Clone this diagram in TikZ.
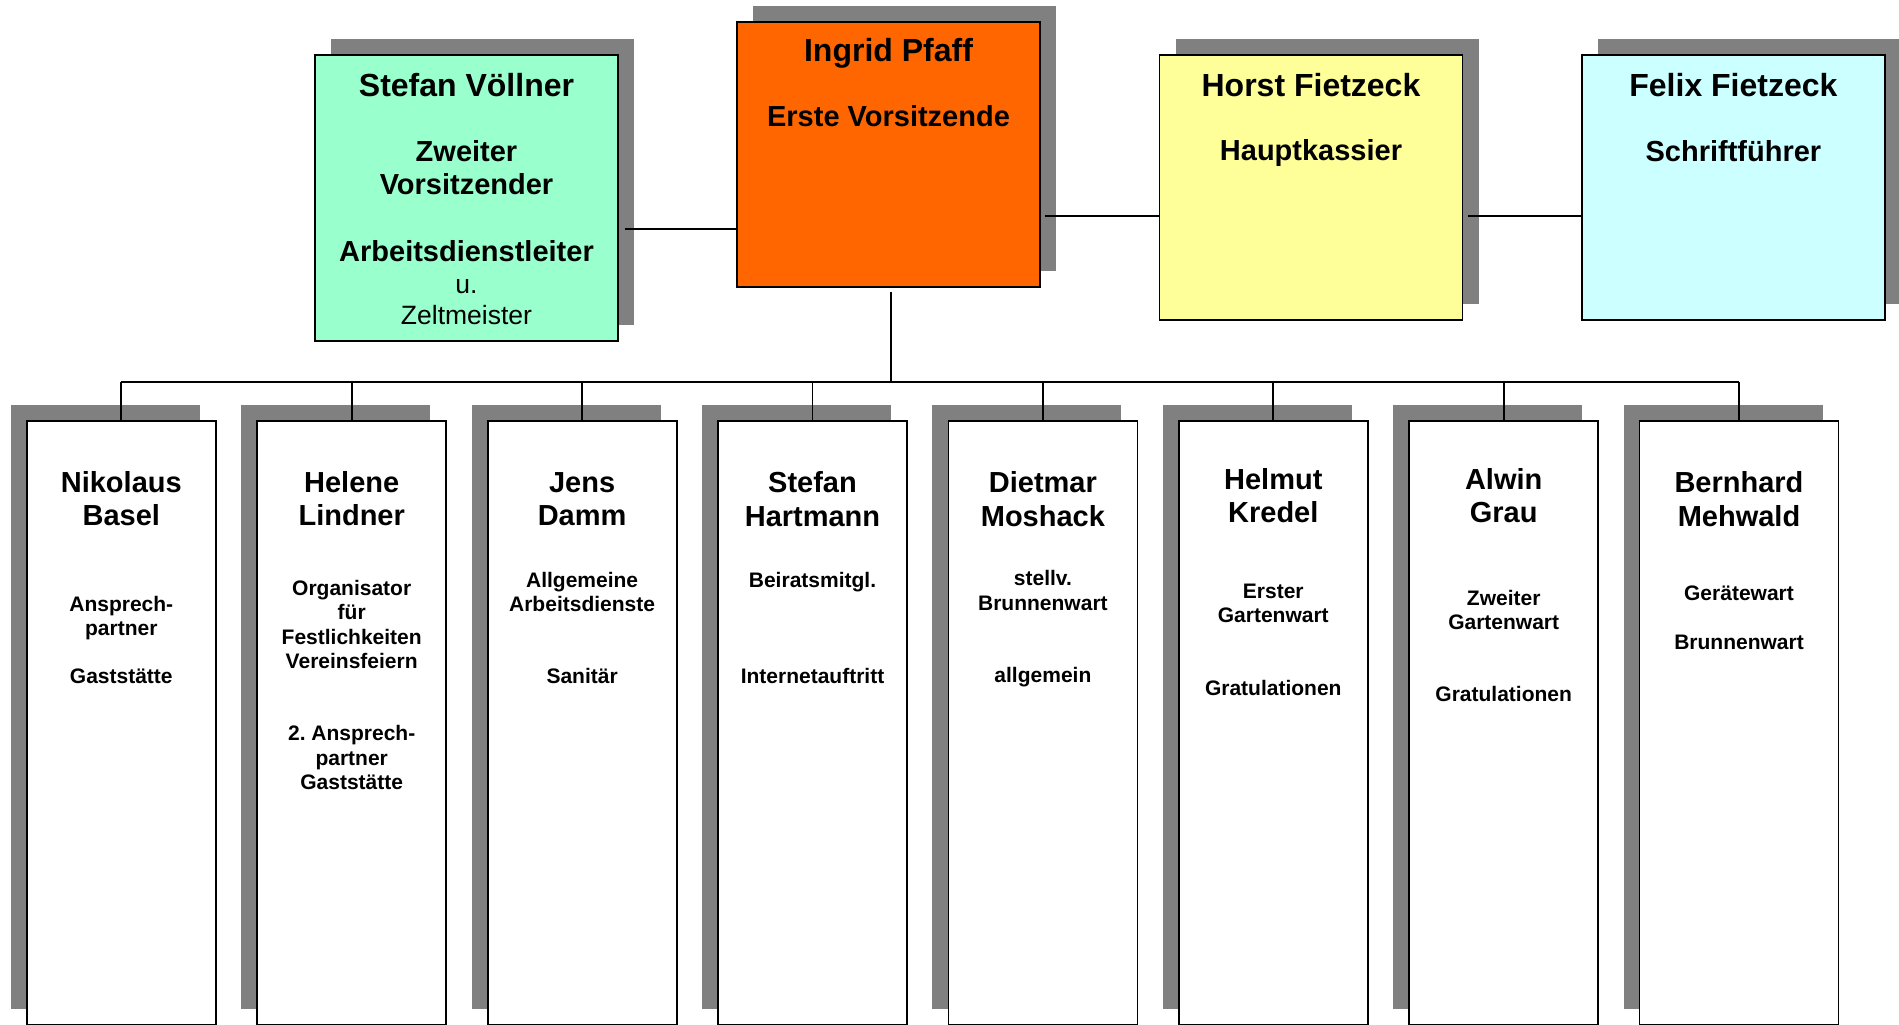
\documentclass[tikz,border=0pt]{standalone}
\usepackage{fontspec}
\setmainfont{Liberation Sans}
\usepackage{tikz}
\usetikzlibrary{shadows}
\definecolor{mint}{HTML}{99FFCC}
\definecolor{signal}{HTML}{FF6600}
\definecolor{lemon}{HTML}{FFFF99}
\definecolor{ice}{HTML}{CCFFFF}
\definecolor{shade}{HTML}{808080}
\tikzset{board/.style = {draw, line width=1.8pt, inner sep=0pt, minimum width=303pt,
    drop shadow={shadow xshift=16pt, shadow yshift=16pt, fill=shade, opacity=1}}}
\tikzset{member/.style = {draw, fill=white, line width=1.8pt, inner sep=0pt, minimum width=189pt, minimum height=604pt,
    drop shadow={shadow xshift=-16pt, shadow yshift=16pt, fill=shade, opacity=1}}}
\tikzset{chief/.style = {font=\fontsize{32}{36.8}\selectfont\bfseries, align=center, inner sep=0pt}}
\tikzset{head/.style = {font=\fontsize{29}{33.4}\selectfont\bfseries, align=center, inner sep=0pt}}
\tikzset{duty/.style = {font=\fontsize{21}{24.2}\selectfont\bfseries, align=center, inner sep=0pt}}
\tikzset{note/.style = {font=\fontsize{26.5}{30.5}\selectfont, align=center, inner sep=0pt}}
\tikzset{link/.style = {line width=1.8pt}}

\begin{document}
\begin{tikzpicture}[x=1pt, y=-1pt]
            \useasboundingbox (0,0) rectangle (1899,1025);

            % Vorstand
            \node[board, fill=mint, minimum height=286pt] (voell) at (466.5,198.3) {};
            \node[board, fill=signal, minimum height=265pt] (pfaff) at (888.5,154.4) {};
            \node[board, fill=lemon, minimum height=265pt] (horst) at (1311,187.7) {};
            \node[board, fill=ice, minimum height=265pt] (felix) at (1733.4,187.7) {};

            \node[chief] (voell-name) at (voell |- 0,85) {Stefan Völlner};
            \node[head] (voell-role) at (voell |- 0,201) {Zweiter\\Vorsitzender\\[33.4pt]Arbeitsdienstleiter};
            \node[note] (voell-note) at (voell |- 0,302) {u.\\Zeltmeister};
            \node[chief] (pfaff-name) at (pfaff |- 0,53.5) {Ingrid Pfaff};
            \node[head] (pfaff-role) at (pfaff |- 0,116.2) {Erste Vorsitzende};
            \node[chief] (horst-name) at (horst |- 0,85.3) {Horst Fietzeck};
            \node[head] (horst-role) at (horst |- 0,153.5) {Hauptkassier};
            \node[chief] (felix-name) at (felix |- 0,85.3) {Felix Fietzeck};
            \node[head] (felix-role) at (felix |- 0,150.7) {Schriftführer};

            % Mitglieder
            \node[member] (nikolaus) at (121.3,723) {};
            \node[member] (helene) at (351.7,723) {};
            \node[member] (jens) at (582.1,723) {};
            \node[member] (hartmann) at (812.5,723) {};
            \node[member] (dietmar) at (1042.9,723) {};
            \node[member] (helmut) at (1273.3,723) {};
            \node[member] (alwin) at (1503.7,723) {};
            \node[member, minimum width=199pt] (bernhard) at (1739,723) {};

            \node[head] (nikolaus-name) at (nikolaus |- 0,498.5) {Nikolaus\\Basel};
            \node[duty] (nikolaus-duty) at (nikolaus |- 0,640) {Ansprech-\\partner\\[24.2pt]Gaststätte};
            \node[head] (helene-name) at (helene |- 0,498.5) {Helene\\Lindner};
            \node[duty] (helene-duty) at (helene |- 0,685) {Organisator\\für\\Festlichkeiten\\Vereinsfeiern\\[48.4pt]2.\ Ansprech-\\partner\\Gaststätte};
            \node[head] (jens-name) at (jens |- 0,499) {Jens\\Damm};
            \node[duty] (jens-duty) at (jens |- 0,628) {Allgemeine\\Arbeitsdienste\\[48.4pt]Sanitär};
            \node[head] (hartmann-name) at (hartmann |- 0,499) {Stefan\\Hartmann};
            \node[duty] (hartmann-duty) at (hartmann |- 0,628) {Beiratsmitgl.\\[72.6pt]Internetauftritt};
            \node[head] (dietmar-name) at (dietmar |- 0,499) {Dietmar\\Moshack};
            \node[duty] (dietmar-duty) at (dietmar |- 0,629) {stellv.\\Brunnenwart\\[48.4pt]allgemein};
            \node[head] (helmut-name) at (helmut |- 0,495.5) {Helmut\\Kredel};
            \node[duty] (helmut-duty) at (helmut |- 0,639.7) {Erster\\Gartenwart\\[48.4pt]Gratulationen};
            \node[head] (alwin-name) at (alwin |- 0,495.5) {Alwin\\Grau};
            \node[duty] (alwin-duty) at (alwin |- 0,645.9) {Zweiter\\Gartenwart\\[48.4pt]Gratulationen};
            \node[head] (bernhard-name) at (bernhard |- 0,499) {Bernhard\\Mehwald};
            \node[duty] (bernhard-duty) at (bernhard |- 0,617.9) {Gerätewart\\[24.2pt]Brunnenwart};

            % Verbindungen
            \draw[link] (voell.east |- 0,229) ++(6,0) -- (pfaff.west |- 0,229);
            \draw[link] (pfaff.east |- 0,215.7) ++(4,0) -- (horst.west |- 0,215.7);
            \draw[link] (horst.east |- 0,215.7) ++(5,0) -- (felix.west |- 0,215.7);

            \coordinate (busl) at (nikolaus.north |- 0,382);
            \coordinate (busr) at (bernhard.north |- 0,382);
            \coordinate (drop) at ([xshift=2.5pt]pfaff.south);
            \draw[link] (drop) ++(0,4) -- (drop |- busl);
            \draw[link] (busl) -- (busr);
            \draw[link] (nikolaus.north) -- (busl);
            \draw[link] (helene.north) -- (helene.north |- busl);
            \draw[link] (jens.north) -- (jens.north |- busl);
            \draw[link] (hartmann.north) -- (hartmann.north |- busl);
            \draw[link] (dietmar.north) -- (dietmar.north |- busl);
            \draw[link] (helmut.north) -- (helmut.north |- busl);
            \draw[link] (alwin.north) -- (alwin.north |- busl);
            \draw[link] (bernhard.north) -- (busr);
\end{tikzpicture}
\end{document}
